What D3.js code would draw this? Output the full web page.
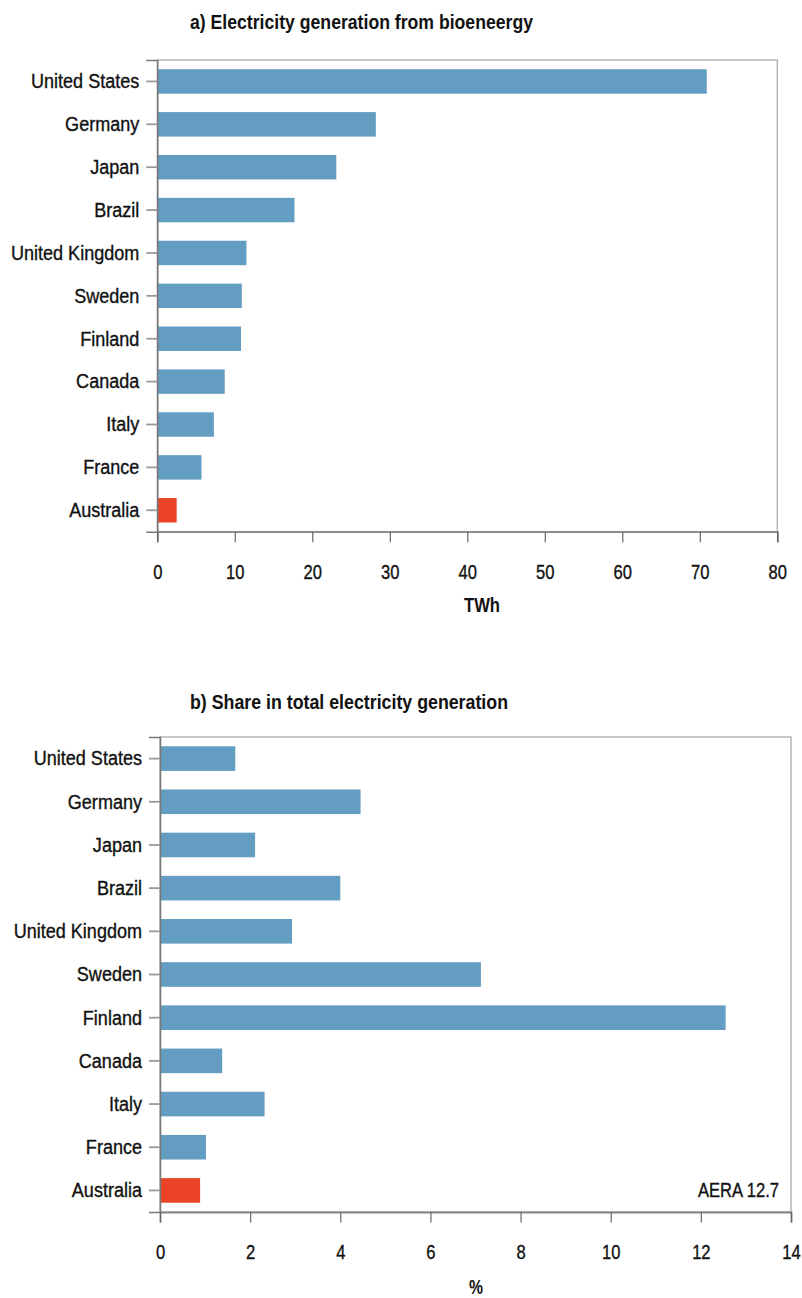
<!DOCTYPE html>
<html>
<head>
<meta charset="utf-8">
<script src="https://cdn.jsdelivr.net/npm/d3@7"></script>
<style>
  html, body { margin: 0; padding: 0; background: #fff; }
  svg { display: block; }
  .lbl { font-family: "Liberation Sans", Arial, sans-serif; font-size: 19.5px; fill: #111; stroke: #111; stroke-width: 0.35px; }
  .ttl { font-family: "Liberation Sans", Arial, sans-serif; font-size: 20px; font-weight: bold; fill: #111; }
</style>
</head>
<body>
<svg id="chart" width="802" height="1298"></svg>
<script>
// ---- data ----
const categories = ["United States", "Germany", "Japan", "Brazil", "United Kingdom", "Sweden", "Finland", "Canada", "Italy", "France", "Australia"];
const generationTWh = [70.9, 28.2, 23.1, 17.7, 11.5, 10.9, 10.8, 8.7, 7.3, 5.7, 2.5];
const sharePct = [1.67, 4.45, 2.11, 4.0, 2.93, 7.12, 12.55, 1.38, 2.32, 1.02, 0.89];
const ticksTWh = [0, 10, 20, 30, 40, 50, 60, 70, 80];
const ticksPct = [0, 2, 4, 6, 8, 10, 12, 14];
const highlight = "Australia";
const titleA = "a) Electricity generation from bioeneergy";
const titleB = "b) Share in total electricity generation";
const unitA = "TWh";
const unitB = "%";
const sourceNote = "AERA 12.7";

const BLUE = "#639dc2", RED = "#ea4326";
const svg = d3.select("#chart");

// emulate a condensed face: squeeze glyphs horizontally
function condense(sel, f) {
  sel.each(function () {
    const w = this.getComputedTextLength();
    if (w > 0) d3.select(this).attr("textLength", w * f).attr("lengthAdjust", "spacingAndGlyphs");
  });
}

function panel(cfg) {
  const { values, ticks, max, left, right, top, bottom, title, titleY, titleLen, unit, unitX, unitY, unitLen, note } = cfg;
  const g = svg.append("g");
  const x = d3.scaleLinear().domain([0, max]).range([left, right]);
  const y = d3.scaleBand().domain(categories).range([top, bottom]).paddingInner(0.43).paddingOuter(0.215);

  // frame
  g.append("rect").attr("x", left).attr("y", top).attr("width", right - left).attr("height", bottom - top)
    .attr("fill", "none").attr("stroke", "#b5b5b5").attr("stroke-width", 1.5);

  // bars
  g.selectAll("rect.bar").data(categories).join("rect").attr("class", "bar")
    .attr("x", x(0)).attr("y", d => y(d))
    .attr("width", (d, i) => x(values[i]) - x(0)).attr("height", y.bandwidth())
    .attr("fill", d => d === highlight ? RED : BLUE);

  // y axis
  const ya = g.append("g").attr("transform", `translate(${left},0)`)
    .call(d3.axisLeft(y).tickSize(11).tickPadding(7));
  ya.select(".domain").attr("stroke", "#777").attr("stroke-width", 1.5);
  ya.selectAll(".tick line").attr("stroke", "#999").attr("stroke-width", 1.8);
  ya.selectAll(".tick text").attr("class", "lbl").attr("font-family", null).attr("font-size", null)
    .attr("dy", "0.35em").call(condense, 0.925);

  // x axis
  const xa = g.append("g").attr("transform", `translate(0,${bottom})`)
    .call(d3.axisBottom(x).tickValues(ticks).tickFormat(d3.format("d")).tickSize(10.5).tickPadding(23));
  xa.select(".domain").attr("stroke", "#888").attr("stroke-width", 1.8);
  xa.selectAll(".tick line").attr("stroke", "#666").attr("stroke-width", 1.2);
  xa.selectAll(".tick text").attr("class", "lbl").attr("font-family", null).attr("font-size", null)
    .call(condense, 0.85);

  // title
  g.append("text").attr("class", "ttl").attr("x", 190).attr("y", titleY).attr("dy", "0.35em")
    .attr("textLength", titleLen).attr("lengthAdjust", "spacingAndGlyphs").text(title);
  // unit
  g.append("text").attr("class", "ttl").attr("x", unitX).attr("y", unitY).attr("dy", "0.35em")
    .attr("text-anchor", "middle").attr("textLength", unitLen).attr("lengthAdjust", "spacingAndGlyphs").text(unit);
  if (note) {
    g.append("text").attr("class", "lbl").attr("x", right - 12).attr("y", y(highlight) + y.bandwidth() / 2)
      .attr("dy", "0.35em").attr("text-anchor", "end").text(note).call(condense, 0.85);
  }
}

panel({ values: generationTWh, ticks: ticksTWh, max: 80, left: 157.3, right: 777.3, top: 60, bottom: 531.7,
  title: titleA, titleY: 22, titleLen: 343, unit: unitA, unitX: 482, unitY: 605, unitLen: 36 });
panel({ values: sharePct, ticks: ticksPct, max: 14, left: 160, right: 791, top: 737, bottom: 1212,
  title: titleB, titleY: 702, titleLen: 318, unit: unitB, unitX: 476, unitY: 1287, unitLen: 14, note: sourceNote });
</script>
</body>
</html>
